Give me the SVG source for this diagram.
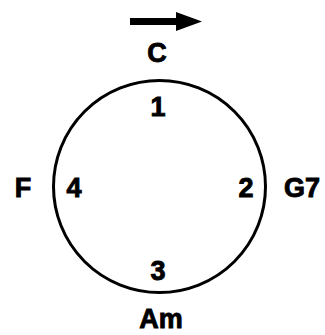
<svg xmlns="http://www.w3.org/2000/svg" width="325" height="335" viewBox="0 0 325 335">
<style>
.t{font-family:"Liberation Sans",Arial,sans-serif;font-weight:bold;font-size:27px;fill:#000;stroke:#000;stroke-width:0.9;text-anchor:middle}
.n{font-size:27px}
</style>
<rect width="325" height="335" fill="#fff"/>
<g id="connectors">
<rect x="130" y="18" width="47" height="7" fill="#000"/>
<polygon points="176,12 202,21.5 176,31" fill="#000"/>
</g>
<g id="circle"><circle cx="159.5" cy="186.5" r="106" fill="none" stroke="#000" stroke-width="3"/></g>
<g id="C"><text class="t" x="157" y="62">C</text></g>
<g id="n1"><text class="t n" x="158" y="116">1</text></g>
<g id="n2"><text class="t n" x="246" y="197">2</text></g>
<g id="n3"><text class="t n" x="158" y="280">3</text></g>
<g id="n4"><text class="t n" x="74" y="197">4</text></g>
<g id="F"><text class="t" x="23" y="197">F</text></g>
<g id="G7"><text class="t" x="302" y="197">G7</text></g>
<g id="Am"><text class="t" x="161" y="328">Am</text></g>
</svg>
